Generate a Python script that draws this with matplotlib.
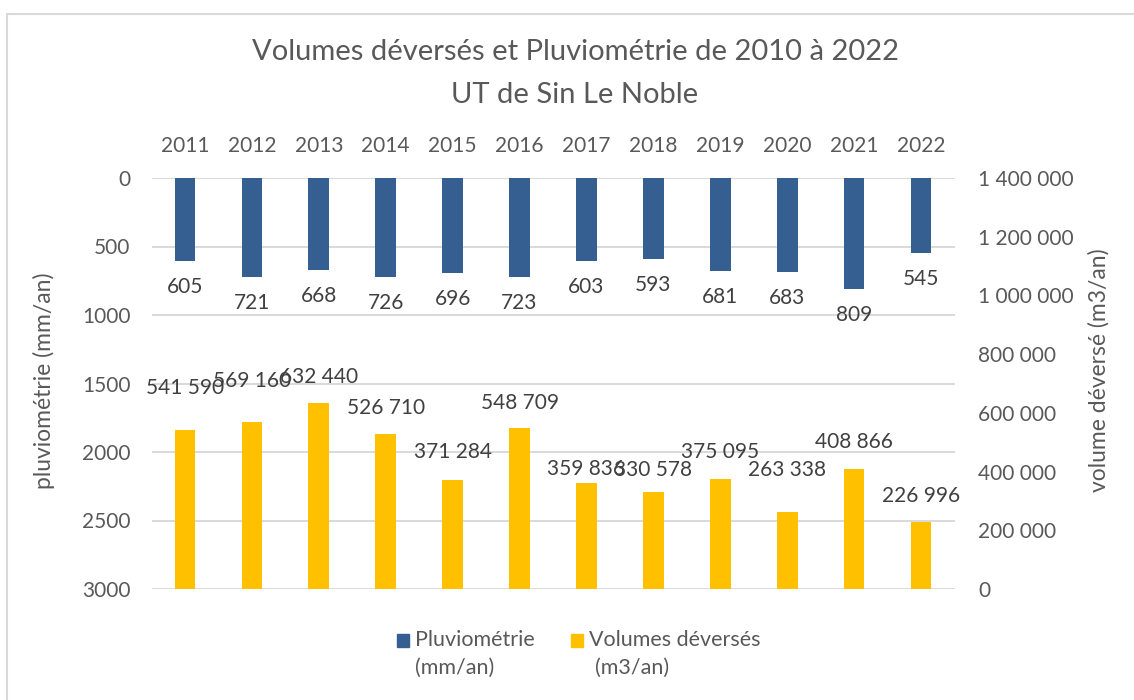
import matplotlib
matplotlib.use('agg')
import matplotlib.pyplot as plt
from matplotlib.patches import Rectangle
from matplotlib.ticker import FuncFormatter

# data
years = ['2011', '2012', '2013', '2014', '2015', '2016',
         '2017', '2018', '2019', '2020', '2021', '2022']
pluviometrie = [605, 721, 668, 726, 696, 723, 603, 593, 681, 683, 809, 545]
volumes = [541590, 569160, 632440, 526710, 371284, 548709,
           359836, 330578, 375095, 263338, 408866, 226996]

BLUE = '#365f91'
YELLOW = '#ffc000'
GREY_TXT = '#595959'
DARK_TXT = '#404040'
GRID = '#d9d9d9'
FS = 15

plt.rcParams['font.family'] = ['Lato', 'DejaVu Sans']

W, H = 1134, 700
fig = plt.figure(figsize=(W / 100, H / 100), dpi=100)


def fx(x):
    return x / W


def fy(y):
    return 1 - y / H


def spaced(v):
    return f"{v:,.0f}".replace(',', ' ')


# outer chart border (cut by the image on the right / bottom)
fig.add_artist(Rectangle((fx(7), fy(720)), fx(1150), 706 / H, transform=fig.transFigure,
                         fill=False, edgecolor=GRID, lw=1.5))

ax = fig.add_axes([fx(151.5), fy(589), 803 / W, 411 / H])
ax2 = ax.twinx()

pos = list(range(len(years)))
ax.bar(pos, pluviometrie, width=0.31, color=BLUE, zorder=3)
ax2.bar(pos, volumes, width=0.31, color=YELLOW, zorder=3)

ax.set_xlim(-0.5, len(years) - 0.5)
ax.set_ylim(3000, 0)
ax2.set_ylim(0, 1400000)
ax.set_yticks(range(0, 3001, 500))
ax2.set_yticks(range(0, 1400001, 200000))
ax2.yaxis.set_major_formatter(FuncFormatter(lambda v, p: spaced(v)))

ax.xaxis.tick_top()
ax.set_xticks(pos, years)
ax.tick_params(axis='x', length=0, pad=16, labelsize=FS, labelcolor=GREY_TXT)
ax.tick_params(axis='y', length=0, pad=15, labelsize=FS, labelcolor=GREY_TXT)
ax2.tick_params(axis='y', length=0, pad=17, labelsize=FS, labelcolor=GREY_TXT)

ax.yaxis.grid(True, color=GRID, lw=1.4)
ax.set_axisbelow(True)
for a in (ax, ax2):
    for s in a.spines.values():
        s.set_visible(False)

# data labels
for i, v in enumerate(pluviometrie):
    ax.annotate(str(v), (i, v), xytext=(0, -26 * 0.72), textcoords='offset points',
                ha='center', va='center', fontsize=FS, color=DARK_TXT)

# label offsets in pixels above the bar top (some were nudged by Excel)
vol_dy = [42, 41, 26, 26, 28, 25, 14, 22, 27, 42, 27, 26]
for i, v in enumerate(volumes):
    ax2.annotate(spaced(v), (i, v), xytext=(0, vol_dy[i] * 0.72), textcoords='offset points',
                 ha='center', va='center', fontsize=FS, color=DARK_TXT)

# titles and axis names
fig.text(fx(575), fy(52), 'Volumes déversés et Pluviométrie de 2010 à 2022',
         ha='center', va='center', fontsize=21, color=GREY_TXT)
fig.text(fx(575), fy(95), 'UT de Sin Le Noble',
         ha='center', va='center', fontsize=21, color=GREY_TXT)
fig.text(fx(44), fy(381), 'pluviométrie (mm/an)', rotation=90,
         ha='center', va='center', fontsize=16.5, color=GREY_TXT)
fig.text(fx(1099), fy(370), 'volume déversé (m3/an)', rotation=90,
         ha='center', va='center', fontsize=16.5, color=GREY_TXT)

# legend drawn by hand so the squares sit on the first text line
fig.add_artist(Rectangle((fx(397), fy(647)), 12 / W, 13 / H, transform=fig.transFigure,
                         color=BLUE))
fig.text(fx(415), fy(640), 'Pluviométrie', ha='left', va='center', fontsize=15.5, color=GREY_TXT)
fig.text(fx(415), fy(668), '(mm/an)', ha='left', va='center', fontsize=15.5, color=GREY_TXT)
fig.add_artist(Rectangle((fx(571), fy(647)), 12 / W, 13 / H, transform=fig.transFigure,
                         color=YELLOW))
fig.text(fx(589), fy(640), 'Volumes déversés', ha='left', va='center', fontsize=15.5, color=GREY_TXT)
fig.text(fx(595), fy(668), '(m3/an)', ha='left', va='center', fontsize=15.5, color=GREY_TXT)

plt.savefig('out.png', dpi=100)
plt.close(fig)
